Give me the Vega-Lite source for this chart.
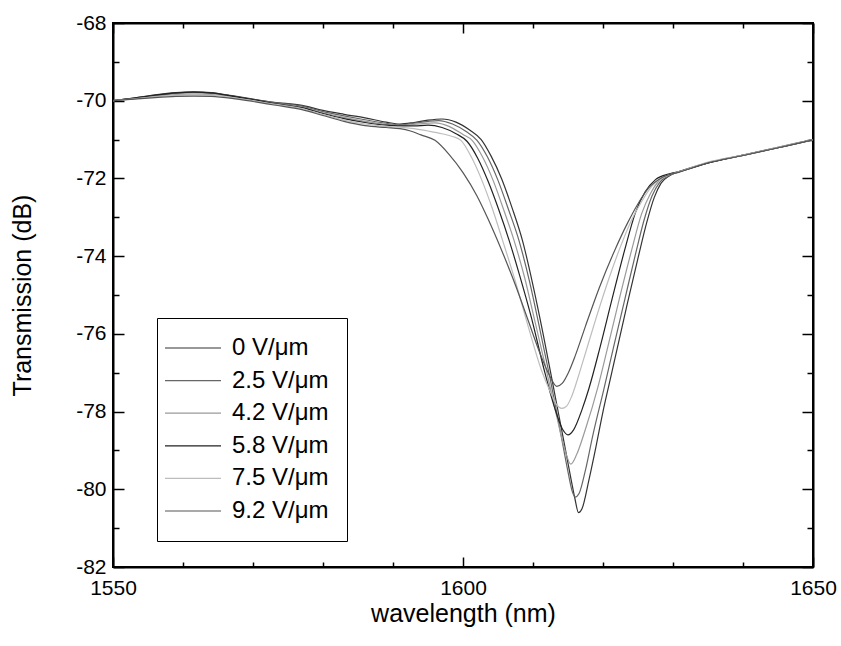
{
  "$schema": "https://vega.github.io/schema/vega-lite/v6.json",
  "width": 700,
  "height": 544,
  "autosize": {"type": "none"},
  "padding": {"left": 113, "top": 23, "right": 28, "bottom": 79},
  "background": "white",
  "config": {
    "view": {"stroke": "black", "strokeWidth": 2},
    "font": "Liberation Sans",
    "axis": {"grid": false, "domainColor": "black", "domainWidth": 2, "tickColor": "black", "tickWidth": 1.5, "labelColor": "black", "titleColor": "black", "labelFont": "Liberation Sans", "titleFont": "Liberation Sans", "titleFontWeight": "normal"}
  },
  "data": {"values": [
    {"s":"0 V/μm","x":1550,"y":-70.0},{"s":"0 V/μm","x":1553,"y":-69.93},{"s":"0 V/μm","x":1556,"y":-69.85},{"s":"0 V/μm","x":1559,"y":-69.79},{"s":"0 V/μm","x":1561.5,"y":-69.77},{"s":"0 V/μm","x":1564,"y":-69.79},{"s":"0 V/μm","x":1567,"y":-69.87},{"s":"0 V/μm","x":1570,"y":-69.96},{"s":"0 V/μm","x":1573,"y":-70.04},{"s":"0 V/μm","x":1577,"y":-70.12},{"s":"0 V/μm","x":1580,"y":-70.25},{"s":"0 V/μm","x":1583,"y":-70.35},{"s":"0 V/μm","x":1586,"y":-70.44},{"s":"0 V/μm","x":1589,"y":-70.55},{"s":"0 V/μm","x":1591,"y":-70.6},{"s":"0 V/μm","x":1593,"y":-70.56},{"s":"0 V/μm","x":1595,"y":-70.5},{"s":"0 V/μm","x":1597,"y":-70.47},{"s":"0 V/μm","x":1599,"y":-70.55},{"s":"0 V/μm","x":1601,"y":-70.76},{"s":"0 V/μm","x":1602.6,"y":-71.0},{"s":"0 V/μm","x":1604,"y":-71.42},{"s":"0 V/μm","x":1605.5,"y":-72.0},{"s":"0 V/μm","x":1607,"y":-72.75},{"s":"0 V/μm","x":1608.5,"y":-73.6},{"s":"0 V/μm","x":1610,"y":-74.75},{"s":"0 V/μm","x":1611.5,"y":-76.05},{"s":"0 V/μm","x":1613,"y":-77.45},{"s":"0 V/μm","x":1614.5,"y":-78.85},{"s":"0 V/μm","x":1615.5,"y":-79.8},{"s":"0 V/μm","x":1616,"y":-80.25},{"s":"0 V/μm","x":1616.5,"y":-80.6},{"s":"0 V/μm","x":1617,"y":-80.5},{"s":"0 V/μm","x":1618,"y":-79.75},{"s":"0 V/μm","x":1619,"y":-78.9},{"s":"0 V/μm","x":1620,"y":-78.0},{"s":"0 V/μm","x":1621,"y":-77.2},{"s":"0 V/μm","x":1622,"y":-76.4},{"s":"0 V/μm","x":1623.5,"y":-75.2},{"s":"0 V/μm","x":1625,"y":-74.05},{"s":"0 V/μm","x":1626.3,"y":-73.1},{"s":"0 V/μm","x":1627.3,"y":-72.5},{"s":"0 V/μm","x":1628.3,"y":-72.12},{"s":"0 V/μm","x":1629.5,"y":-71.93},{"s":"0 V/μm","x":1631,"y":-71.82},{"s":"0 V/μm","x":1635,"y":-71.6},{"s":"0 V/μm","x":1640,"y":-71.4},{"s":"0 V/μm","x":1645,"y":-71.2},{"s":"0 V/μm","x":1650,"y":-71.0},
    {"s":"2.5 V/μm","x":1550,"y":-70.0},{"s":"2.5 V/μm","x":1553,"y":-69.94},{"s":"2.5 V/μm","x":1556,"y":-69.87},{"s":"2.5 V/μm","x":1559,"y":-69.81},{"s":"2.5 V/μm","x":1561.5,"y":-69.79},{"s":"2.5 V/μm","x":1564,"y":-69.81},{"s":"2.5 V/μm","x":1567,"y":-69.88},{"s":"2.5 V/μm","x":1570,"y":-69.97},{"s":"2.5 V/μm","x":1573,"y":-70.05},{"s":"2.5 V/μm","x":1577,"y":-70.14},{"s":"2.5 V/μm","x":1580,"y":-70.28},{"s":"2.5 V/μm","x":1583,"y":-70.39},{"s":"2.5 V/μm","x":1586,"y":-70.49},{"s":"2.5 V/μm","x":1589,"y":-70.58},{"s":"2.5 V/μm","x":1591,"y":-70.62},{"s":"2.5 V/μm","x":1593,"y":-70.58},{"s":"2.5 V/μm","x":1595,"y":-70.53},{"s":"2.5 V/μm","x":1596.5,"y":-70.51},{"s":"2.5 V/μm","x":1598.5,"y":-70.6},{"s":"2.5 V/μm","x":1600.5,"y":-70.8},{"s":"2.5 V/μm","x":1602,"y":-71.02},{"s":"2.5 V/μm","x":1603.5,"y":-71.45},{"s":"2.5 V/μm","x":1605,"y":-72.05},{"s":"2.5 V/μm","x":1606.5,"y":-72.8},{"s":"2.5 V/μm","x":1608,"y":-73.6},{"s":"2.5 V/μm","x":1609.5,"y":-74.65},{"s":"2.5 V/μm","x":1611,"y":-75.9},{"s":"2.5 V/μm","x":1612.5,"y":-77.2},{"s":"2.5 V/μm","x":1614,"y":-78.6},{"s":"2.5 V/μm","x":1615,"y":-79.55},{"s":"2.5 V/μm","x":1615.6,"y":-80.05},{"s":"2.5 V/μm","x":1616,"y":-80.2},{"s":"2.5 V/μm","x":1616.6,"y":-80.1},{"s":"2.5 V/μm","x":1617.5,"y":-79.5},{"s":"2.5 V/μm","x":1618.5,"y":-78.65},{"s":"2.5 V/μm","x":1620.1,"y":-77.44},{"s":"2.5 V/μm","x":1621.5,"y":-76.35},{"s":"2.5 V/μm","x":1623,"y":-75.2},{"s":"2.5 V/μm","x":1624.6,"y":-73.98},{"s":"2.5 V/μm","x":1625.9,"y":-73.05},{"s":"2.5 V/μm","x":1627,"y":-72.45},{"s":"2.5 V/μm","x":1628.1,"y":-72.1},{"s":"2.5 V/μm","x":1629.5,"y":-71.92},{"s":"2.5 V/μm","x":1631,"y":-71.82},{"s":"2.5 V/μm","x":1635,"y":-71.6},{"s":"2.5 V/μm","x":1640,"y":-71.41},{"s":"2.5 V/μm","x":1645,"y":-71.21},{"s":"2.5 V/μm","x":1650,"y":-71.01},
    {"s":"4.2 V/μm","x":1550,"y":-70.0},{"s":"4.2 V/μm","x":1553,"y":-69.95},{"s":"4.2 V/μm","x":1556,"y":-69.89},{"s":"4.2 V/μm","x":1559,"y":-69.84},{"s":"4.2 V/μm","x":1561.5,"y":-69.83},{"s":"4.2 V/μm","x":1564,"y":-69.84},{"s":"4.2 V/μm","x":1567,"y":-69.9},{"s":"4.2 V/μm","x":1570,"y":-69.98},{"s":"4.2 V/μm","x":1573,"y":-70.07},{"s":"4.2 V/μm","x":1577,"y":-70.17},{"s":"4.2 V/μm","x":1580,"y":-70.31},{"s":"4.2 V/μm","x":1583,"y":-70.43},{"s":"4.2 V/μm","x":1586,"y":-70.53},{"s":"4.2 V/μm","x":1589,"y":-70.61},{"s":"4.2 V/μm","x":1591,"y":-70.64},{"s":"4.2 V/μm","x":1593,"y":-70.61},{"s":"4.2 V/μm","x":1596,"y":-70.57},{"s":"4.2 V/μm","x":1598,"y":-70.66},{"s":"4.2 V/μm","x":1600,"y":-70.87},{"s":"4.2 V/μm","x":1601.3,"y":-71.02},{"s":"4.2 V/μm","x":1602.8,"y":-71.45},{"s":"4.2 V/μm","x":1604.3,"y":-72.05},{"s":"4.2 V/μm","x":1605.8,"y":-72.8},{"s":"4.2 V/μm","x":1607.3,"y":-73.6},{"s":"4.2 V/μm","x":1608.8,"y":-74.55},{"s":"4.2 V/μm","x":1610.3,"y":-75.7},{"s":"4.2 V/μm","x":1611.9,"y":-76.93},{"s":"4.2 V/μm","x":1613.3,"y":-78.05},{"s":"4.2 V/μm","x":1614.5,"y":-78.95},{"s":"4.2 V/μm","x":1615.4,"y":-79.35},{"s":"4.2 V/μm","x":1616.2,"y":-79.12},{"s":"4.2 V/μm","x":1617.5,"y":-78.45},{"s":"4.2 V/μm","x":1619.3,"y":-77.35},{"s":"4.2 V/μm","x":1620.8,"y":-76.25},{"s":"4.2 V/μm","x":1622.4,"y":-75.05},{"s":"4.2 V/μm","x":1624.1,"y":-73.84},{"s":"4.2 V/μm","x":1625.5,"y":-72.92},{"s":"4.2 V/μm","x":1626.8,"y":-72.38},{"s":"4.2 V/μm","x":1628,"y":-72.06},{"s":"4.2 V/μm","x":1629.5,"y":-71.9},{"s":"4.2 V/μm","x":1631,"y":-71.82},{"s":"4.2 V/μm","x":1635,"y":-71.59},{"s":"4.2 V/μm","x":1640,"y":-71.4},{"s":"4.2 V/μm","x":1645,"y":-71.2},{"s":"4.2 V/μm","x":1650,"y":-71.0},
    {"s":"5.8 V/μm","x":1550,"y":-70.0},{"s":"5.8 V/μm","x":1553,"y":-69.93},{"s":"5.8 V/μm","x":1556,"y":-69.86},{"s":"5.8 V/μm","x":1559,"y":-69.8},{"s":"5.8 V/μm","x":1561.5,"y":-69.78},{"s":"5.8 V/μm","x":1564,"y":-69.8},{"s":"5.8 V/μm","x":1567,"y":-69.88},{"s":"5.8 V/μm","x":1570,"y":-69.97},{"s":"5.8 V/μm","x":1573,"y":-70.07},{"s":"5.8 V/μm","x":1577,"y":-70.18},{"s":"5.8 V/μm","x":1580,"y":-70.33},{"s":"5.8 V/μm","x":1583,"y":-70.46},{"s":"5.8 V/μm","x":1586,"y":-70.56},{"s":"5.8 V/μm","x":1589,"y":-70.63},{"s":"5.8 V/μm","x":1591,"y":-70.65},{"s":"5.8 V/μm","x":1593,"y":-70.65},{"s":"5.8 V/μm","x":1595,"y":-70.63},{"s":"5.8 V/μm","x":1597,"y":-70.69},{"s":"5.8 V/μm","x":1599,"y":-70.85},{"s":"5.8 V/μm","x":1600.6,"y":-71.05},{"s":"5.8 V/μm","x":1602.1,"y":-71.48},{"s":"5.8 V/μm","x":1603.6,"y":-72.08},{"s":"5.8 V/μm","x":1605.1,"y":-72.8},{"s":"5.8 V/μm","x":1606.6,"y":-73.6},{"s":"5.8 V/μm","x":1608.1,"y":-74.5},{"s":"5.8 V/μm","x":1609.8,"y":-75.6},{"s":"5.8 V/μm","x":1611.6,"y":-76.93},{"s":"5.8 V/μm","x":1613,"y":-77.85},{"s":"5.8 V/μm","x":1614.2,"y":-78.45},{"s":"5.8 V/μm","x":1615,"y":-78.6},{"s":"5.8 V/μm","x":1615.8,"y":-78.47},{"s":"5.8 V/μm","x":1617,"y":-77.95},{"s":"5.8 V/μm","x":1618,"y":-77.4},{"s":"5.8 V/μm","x":1619.5,"y":-76.4},{"s":"5.8 V/μm","x":1621.3,"y":-75.1},{"s":"5.8 V/μm","x":1623.1,"y":-73.84},{"s":"5.8 V/μm","x":1624.6,"y":-72.9},{"s":"5.8 V/μm","x":1626,"y":-72.35},{"s":"5.8 V/μm","x":1627.5,"y":-72.03},{"s":"5.8 V/μm","x":1629.5,"y":-71.88},{"s":"5.8 V/μm","x":1631,"y":-71.82},{"s":"5.8 V/μm","x":1635,"y":-71.6},{"s":"5.8 V/μm","x":1640,"y":-71.4},{"s":"5.8 V/μm","x":1645,"y":-71.21},{"s":"5.8 V/μm","x":1650,"y":-71.0},
    {"s":"7.5 V/μm","x":1550,"y":-70.0},{"s":"7.5 V/μm","x":1553,"y":-69.95},{"s":"7.5 V/μm","x":1556,"y":-69.9},{"s":"7.5 V/μm","x":1559,"y":-69.86},{"s":"7.5 V/μm","x":1561.5,"y":-69.85},{"s":"7.5 V/μm","x":1564,"y":-69.86},{"s":"7.5 V/μm","x":1567,"y":-69.92},{"s":"7.5 V/μm","x":1570,"y":-70.0},{"s":"7.5 V/μm","x":1573,"y":-70.09},{"s":"7.5 V/μm","x":1577,"y":-70.2},{"s":"7.5 V/μm","x":1580,"y":-70.36},{"s":"7.5 V/μm","x":1583,"y":-70.5},{"s":"7.5 V/μm","x":1586,"y":-70.6},{"s":"7.5 V/μm","x":1589,"y":-70.66},{"s":"7.5 V/μm","x":1591,"y":-70.68},{"s":"7.5 V/μm","x":1593,"y":-70.72},{"s":"7.5 V/μm","x":1595,"y":-70.78},{"s":"7.5 V/μm","x":1597,"y":-70.85},{"s":"7.5 V/μm","x":1598.5,"y":-70.92},{"s":"7.5 V/μm","x":1599.7,"y":-71.02},{"s":"7.5 V/μm","x":1601.2,"y":-71.45},{"s":"7.5 V/μm","x":1602.7,"y":-72.05},{"s":"7.5 V/μm","x":1604.2,"y":-72.78},{"s":"7.5 V/μm","x":1605.7,"y":-73.62},{"s":"7.5 V/μm","x":1607.4,"y":-74.6},{"s":"7.5 V/μm","x":1609.3,"y":-75.8},{"s":"7.5 V/μm","x":1611.2,"y":-76.93},{"s":"7.5 V/μm","x":1612.5,"y":-77.5},{"s":"7.5 V/μm","x":1613.4,"y":-77.83},{"s":"7.5 V/μm","x":1614.1,"y":-77.92},{"s":"7.5 V/μm","x":1614.8,"y":-77.86},{"s":"7.5 V/μm","x":1615.5,"y":-77.62},{"s":"7.5 V/μm","x":1616.3,"y":-77.2},{"s":"7.5 V/μm","x":1617.2,"y":-76.67},{"s":"7.5 V/μm","x":1619,"y":-75.6},{"s":"7.5 V/μm","x":1620.8,"y":-74.6},{"s":"7.5 V/μm","x":1622.4,"y":-73.8},{"s":"7.5 V/μm","x":1624,"y":-73.1},{"s":"7.5 V/μm","x":1625.5,"y":-72.6},{"s":"7.5 V/μm","x":1627,"y":-72.2},{"s":"7.5 V/μm","x":1629,"y":-71.94},{"s":"7.5 V/μm","x":1631,"y":-71.82},{"s":"7.5 V/μm","x":1635,"y":-71.58},{"s":"7.5 V/μm","x":1640,"y":-71.4},{"s":"7.5 V/μm","x":1645,"y":-71.2},{"s":"7.5 V/μm","x":1650,"y":-71.0},
    {"s":"9.2 V/μm","x":1550,"y":-70.0},{"s":"9.2 V/μm","x":1553,"y":-69.96},{"s":"9.2 V/μm","x":1556,"y":-69.92},{"s":"9.2 V/μm","x":1559,"y":-69.89},{"s":"9.2 V/μm","x":1561.5,"y":-69.88},{"s":"9.2 V/μm","x":1564,"y":-69.89},{"s":"9.2 V/μm","x":1567,"y":-69.94},{"s":"9.2 V/μm","x":1570,"y":-70.02},{"s":"9.2 V/μm","x":1573,"y":-70.11},{"s":"9.2 V/μm","x":1577,"y":-70.23},{"s":"9.2 V/μm","x":1580,"y":-70.38},{"s":"9.2 V/μm","x":1583,"y":-70.53},{"s":"9.2 V/μm","x":1586,"y":-70.64},{"s":"9.2 V/μm","x":1589,"y":-70.69},{"s":"9.2 V/μm","x":1591,"y":-70.72},{"s":"9.2 V/μm","x":1592.5,"y":-70.78},{"s":"9.2 V/μm","x":1594,"y":-70.88},{"s":"9.2 V/μm","x":1596,"y":-71.02},{"s":"9.2 V/μm","x":1598,"y":-71.38},{"s":"9.2 V/μm","x":1600,"y":-71.85},{"s":"9.2 V/μm","x":1602,"y":-72.45},{"s":"9.2 V/μm","x":1603.6,"y":-73.05},{"s":"9.2 V/μm","x":1605.5,"y":-73.84},{"s":"9.2 V/μm","x":1607.5,"y":-74.75},{"s":"9.2 V/μm","x":1609.3,"y":-75.65},{"s":"9.2 V/μm","x":1611,"y":-76.5},{"s":"9.2 V/μm","x":1612.3,"y":-77.05},{"s":"9.2 V/μm","x":1613.4,"y":-77.35},{"s":"9.2 V/μm","x":1614.2,"y":-77.27},{"s":"9.2 V/μm","x":1615,"y":-77.02},{"s":"9.2 V/μm","x":1616,"y":-76.58},{"s":"9.2 V/μm","x":1617.5,"y":-75.8},{"s":"9.2 V/μm","x":1619.5,"y":-74.8},{"s":"9.2 V/μm","x":1621.7,"y":-73.84},{"s":"9.2 V/μm","x":1623.5,"y":-73.15},{"s":"9.2 V/μm","x":1625,"y":-72.65},{"s":"9.2 V/μm","x":1626.5,"y":-72.25},{"s":"9.2 V/μm","x":1628.5,"y":-71.97},{"s":"9.2 V/μm","x":1631,"y":-71.83},{"s":"9.2 V/μm","x":1635,"y":-71.6},{"s":"9.2 V/μm","x":1640,"y":-71.41},{"s":"9.2 V/μm","x":1645,"y":-71.21},{"s":"9.2 V/μm","x":1650,"y":-71.01}
  ]},
  "layer": [
    {
      "mark": {"type": "line", "strokeWidth": 1.2, "interpolate": "monotone"},
      "encoding": {
        "x": {"field": "x", "type": "quantitative", "scale": {"domain": [1550, 1650], "nice": false, "zero": false},
          "axis": {"orient": "bottom", "title": "wavelength (nm)", "titleFontSize": 25, "titlePadding": -2, "values": [1550,1560,1570,1580,1590,1600,1610,1620,1630,1640,1650],
            "labelExpr": "datum.value % 50 === 0 ? '' + datum.value : ''", "labelFontSize": 21, "labelPadding": 20, "labelFlush": false, "labelOverlap": false,
            "tickSize": {"condition": {"test": "datum.value % 50 === 0", "value": -10}, "value": -5}}},
        "y": {"field": "y", "type": "quantitative", "scale": {"domain": [-82, -68], "nice": false, "zero": false},
          "axis": {"orient": "left", "title": "Transmission (dB)", "titleFontSize": 25, "titlePadding": 40, "values": [-82,-81,-80,-79,-78,-77,-76,-75,-74,-73,-72,-71,-70,-69,-68],
            "labelExpr": "datum.value % 2 === 0 ? '' + datum.value : ''", "labelFontSize": 21, "labelPadding": 18, "labelOverlap": false,
            "tickSize": {"condition": {"test": "datum.value % 2 === 0", "value": -11}, "value": -6}}},
        "color": {"field": "s", "type": "nominal", "sort": null,
          "scale": {"domain": ["0 V/μm","2.5 V/μm","4.2 V/μm","5.8 V/μm","7.5 V/μm","9.2 V/μm"], "range": ["#333333","#666666","#9a9a9a","#222222","#bdbdbd","#555555"]},
          "legend": {"orient": "none", "legendX": 44, "legendY": 295, "title": null, "fillColor": "white", "strokeColor": "black", "padding": 18,
            "symbolType": "M-2.8,0H2.8", "symbolSize": 400, "symbolStrokeWidth": 1.2, "symbolOffset": 6, "labelOffset": 27,
            "labelFontSize": 24, "labelFont": "Liberation Sans", "labelColor": "black", "rowPadding": 8.6, "labelLimit": 300}}
      }
    },
    {
      "mark": {"type": "point", "opacity": 0},
      "encoding": {
        "x": {"field": "x", "type": "quantitative",
          "axis": {"orient": "top", "title": null, "labels": false, "values": [1550,1560,1570,1580,1590,1600,1610,1620,1630,1640,1650],
            "tickSize": {"condition": {"test": "datum.value % 50 === 0", "value": -10}, "value": -5}}},
        "y": {"field": "y", "type": "quantitative",
          "axis": {"orient": "right", "title": null, "labels": false, "values": [-82,-81,-80,-79,-78,-77,-76,-75,-74,-73,-72,-71,-70,-69,-68],
            "tickSize": {"condition": {"test": "datum.value % 2 === 0", "value": -11}, "value": -6}}}
      }
    }
  ],
  "resolve": {"axis": {"x": "independent", "y": "independent"}}
}
